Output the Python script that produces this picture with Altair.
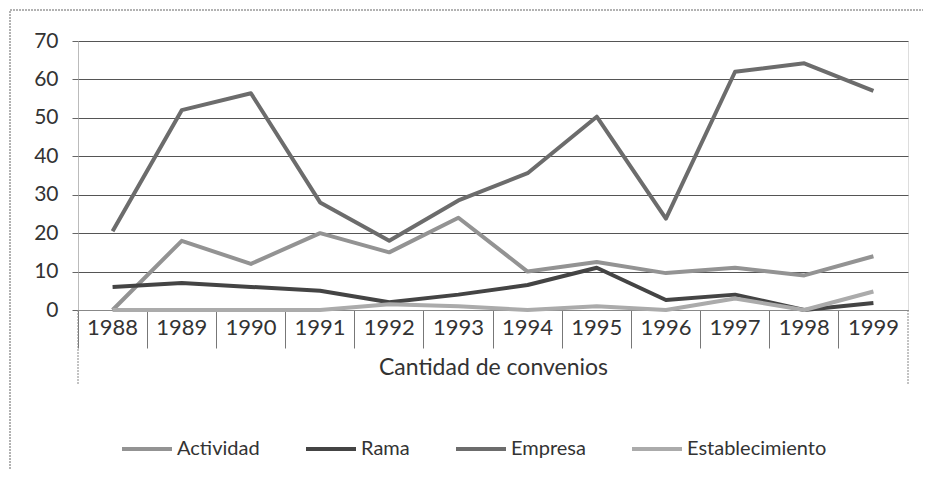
import altair as alt
import pandas as pd

years = ["1988", "1989", "1990", "1991", "1992", "1993", "1994", "1995", "1996", "1997", "1998", "1999"]
actividad = [0, 18, 12, 20, 15, 24, 10, 12.5, 9.6, 11, 9, 14]
rama = [6, 7, 6, 5, 2, 4, 6.5, 11, 2.6, 4, 0, 1.8]
empresa = [20.5, 52, 56.4, 28, 18, 28.5, 35.6, 50.3, 23.8, 62, 64.2, 57]
establecimiento = [0, 0, 0, 0, 1.5, 1, 0, 1, 0, 3, 0, 4.8]

series_names = ["Actividad", "Rama", "Empresa", "Establecimiento"]
series_values = [actividad, rama, empresa, establecimiento]
series_colors = ["#939393", "#444444", "#6c6c6c", "#ababab"]

rows = []
for name, vals in zip(series_names, series_values):
    for y, v in zip(years, vals):
        rows.append({"year": y, "serie": name, "value": v})
df = pd.DataFrame(rows)

W, H = 830, 269
FONT = "Lato"

base = alt.Chart(df)

lines = base.mark_line(strokeWidth=4, strokeJoin="round").encode(
    x=alt.X("year:N", sort=years,
            scale=alt.Scale(type="band", paddingInner=0, paddingOuter=0),
            axis=alt.Axis(title="Cantidad de convenios", labelAngle=0, bandPosition=0,
                          tickSize=38, tickColor="#777", tickWidth=1,
                          domain=True, domainColor="#888",
                          labelPadding=-31, labelFontSize=22, labelColor="#333",
                          labelFont=FONT, titleFont=FONT, titleFontSize=23,
                          titleFontWeight="normal", titleColor="#333",
                          titlePadding=8)),
    y=alt.Y("value:Q", scale=alt.Scale(domain=[0, 70], nice=False),
            axis=alt.Axis(title=None, values=[0, 10, 20, 30, 40, 50, 60, 70],
                          grid=True, gridColor="#555", gridWidth=1,
                          domain=True, domainColor="#999", domainDash=[1, 1],
                          tickSize=6, tickColor="#666",
                          labelPadding=14, labelFontSize=21, labelColor="#333",
                          labelFont=FONT)),
    color=alt.Color("serie:N", sort=series_names,
                    scale=alt.Scale(domain=series_names, range=series_colors),
                    legend=alt.Legend(title=None, orient="none", direction="horizontal",
                                      legendX=42, legendY=381,
                                      symbolType="stroke", symbolStrokeWidth=4,
                                      symbolSize=2500, labelFontSize=20,
                                      labelFont=FONT, labelColor="#333",
                                      columnPadding=38, labelOffset=3)),
)

edges_df = pd.DataFrame({"pos": ["left"]})
edge_left = alt.Chart(edges_df).mark_rule(color="#888", strokeWidth=1, strokeDash=[2, 1]).encode(
    x=alt.value(0), y=alt.value(H), y2=alt.value(H + 75),
)
edge_right = alt.Chart(edges_df).mark_rule(color="#888", strokeWidth=1, strokeDash=[2, 1]).encode(
    x=alt.value(W), y=alt.value(H), y2=alt.value(H + 75),
)

border = alt.Chart(edges_df).mark_rect(fill=None, stroke="#999", strokeWidth=1.5,
                                        strokeDash=[2, 1], clip=False).encode(
    x=alt.value(-68), x2=alt.value(847), y=alt.value(-31), y2=alt.value(470),
)

chart = alt.layer(border, lines, edge_left, edge_right).properties(
    width=W, height=H,
    padding={"left": 70, "top": 33, "right": 15, "bottom": 160},
    autosize=alt.AutoSizeParams(type="none"),
).configure_view(stroke=None).configure(background="white")

chart.save("out.html", embed_options={"renderer": "svg", "actions": False})
